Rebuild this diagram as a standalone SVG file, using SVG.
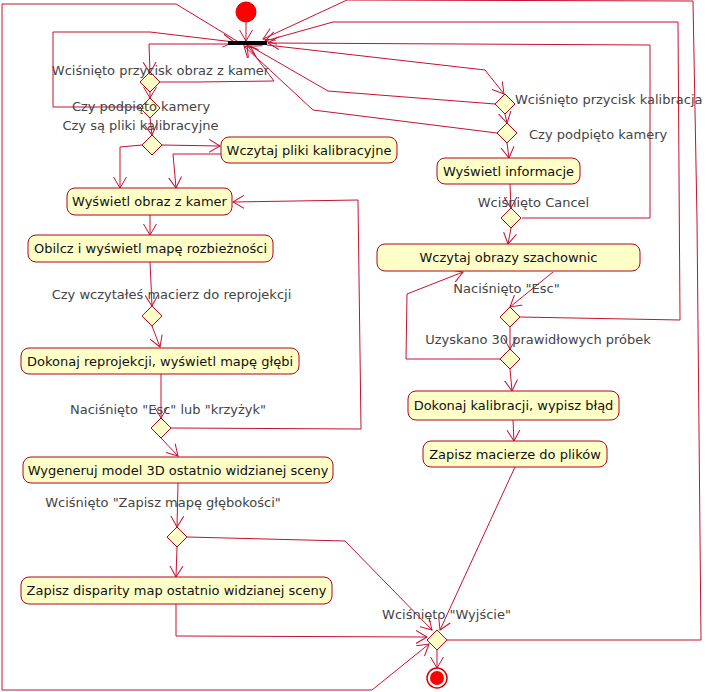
<svg xmlns="http://www.w3.org/2000/svg" width="708" height="692" viewBox="0 0 708 692">
<defs>
<marker id="arr" viewBox="0 0 12 14" refX="11" refY="7" markerWidth="12" markerHeight="14" markerUnits="userSpaceOnUse" orient="auto">
<path d="M0,0.5 L11,7 L0,13.5" fill="none" stroke="#c8102e" stroke-width="1"/>
</marker>
</defs>
<style>
.c{fill:none;stroke:#c8102e;stroke-width:1;marker-end:url(#arr)}
.cn{fill:none;stroke:#c8102e;stroke-width:1}
.box{fill:#ffffc8;stroke:#b5001e;stroke-width:1}
.dia{fill:#ffffc8;stroke:#b5001e;stroke-width:1}
.bt{font-family:"DejaVu Sans",sans-serif;font-size:13px;fill:#111;text-anchor:middle}
.lb{font-family:"DejaVu Sans",sans-serif;font-size:13px;fill:#444}
.mid{text-anchor:middle}
</style>
<rect width="708" height="692" fill="#fff"/>
<g id="connectors">
<polyline class="c" points="246,22 246,41"/>
<polyline class="c" points="228,44 149,44 150,73"/>
<polyline class="c" points="160,82 197,82 274,81 247,45"/>
<polyline class="c" points="150,92 150,98"/>
<polyline class="c" points="140,107 53,107 53,32 150,32 234,42"/>
<polyline class="c" points="150,118 152,135"/>
<polyline class="c" points="162,145 220,146"/>
<polyline class="c" points="142,145 120,147 120,188"/>
<polyline class="c" points="221,154 173,154 176,188"/>
<polyline class="c" points="150,215 150,235"/>
<polyline class="c" points="150,262 152,306"/>
<polyline class="c" points="152,326 160,347"/>
<polyline class="c" points="161,374 161,418"/>
<polyline class="c" points="171,428 361,429 358,200 233,202"/>
<polyline class="c" points="161,438 178,456"/>
<polyline class="c" points="178,483 177,527"/>
<polyline class="c" points="177,547 176,577"/>
<polyline class="c" points="187,537 266,539 345,541 432,630"/>
<polyline class="c" points="176,604 176,636 427,637"/>
<polyline class="c" points="447,640 701,640 697,220 693,1 347,0 263,39"/>
<polyline class="c" points="237,41 176,4 2,4 2,690 372,690 429,644"/>
<polyline class="c" points="267,45 485,70 504,94"/>
<polyline class="c" points="495,104 328,91 250,46"/>
<polyline class="c" points="505,114 507,123"/>
<polyline class="c" points="497,133 313,110 244,46"/>
<polyline class="c" points="507,143 509,158"/>
<polyline class="c" points="510,184 511,208"/>
<polyline class="c" points="522,218 650,218 650,45 268,43"/>
<polyline class="c" points="511,228 508,244"/>
<polyline class="c" points="553,272 510,307"/>
<polyline class="c" points="520,317 680,320 678,22 333,22 265,41"/>
<polyline class="c" points="510,327 510,349"/>
<polyline class="c" points="500,359 406,359 407,294 463,272"/>
<polyline class="c" points="510,369 512,391"/>
<polyline class="c" points="513,420 514,441"/>
<polyline class="c" points="515,467 440,630"/>
<polyline class="c" points="437,650 437,668"/>
</g>
<g id="start"><circle cx="246" cy="12" r="10" fill="#f00" stroke="#d00"/></g>
<g id="fork"><rect x="228" y="41" width="39" height="4" fill="#000"/></g>
<g id="d1"><polygon class="dia" points="150,72 160,82 150,92 140,82"/></g>
<g id="d2"><polygon class="dia" points="150,98 160,108 150,118 140,108"/></g>
<g id="d3"><polygon class="dia" points="152,135 162,145 152,155 142,145"/></g>
<g id="d4"><polygon class="dia" points="152,306 162,316 152,326 142,316"/></g>
<g id="d5"><polygon class="dia" points="161,418 171,428 161,438 151,428"/></g>
<g id="d6"><polygon class="dia" points="177,527 187,537 177,547 167,537"/></g>
<g id="k1"><polygon class="dia" points="505,94 515,104 505,114 495,104"/></g>
<g id="k2"><polygon class="dia" points="507,123 517,133 507,143 497,133"/></g>
<g id="dc"><polygon class="dia" points="511,208 521,218 511,228 501,218"/></g>
<g id="de"><polygon class="dia" points="510,307 520,317 510,327 500,317"/></g>
<g id="df"><polygon class="dia" points="510,349 520,359 510,369 500,359"/></g>
<g id="dx"><polygon class="dia" points="437,630 447,640 437,650 427,640"/></g>
<g id="n1"><rect class="box" x="221" y="137" width="176" height="26" rx="8"/><text class="bt" x="309" y="155">Wczytaj pliki kalibracyjne</text></g>
<g id="n2"><rect class="box" x="67" y="188" width="165" height="27" rx="8"/><text class="bt" x="149.5" y="206">Wyświetl obraz z kamer</text></g>
<g id="n3"><rect class="box" x="28" y="235" width="245" height="27" rx="8"/><text class="bt" x="150.5" y="253">Obilcz i wyświetl mapę rozbieżności</text></g>
<g id="n4"><rect class="box" x="21" y="348" width="278" height="26" rx="8"/><text class="bt" x="160" y="366">Dokonaj reprojekcji, wyświetl mapę głębi</text></g>
<g id="n5"><rect class="box" x="23" y="457" width="310" height="26" rx="8"/><text class="bt" x="178" y="475">Wygeneruj model 3D ostatnio widzianej sceny</text></g>
<g id="n6"><rect class="box" x="21" y="577" width="311" height="27" rx="8"/><text class="bt" x="176.5" y="595">Zapisz disparity map ostatnio widzianej sceny</text></g>
<g id="n7"><rect class="box" x="437" y="158" width="143" height="26" rx="8"/><text class="bt" x="508.5" y="176">Wyświetl informacje</text></g>
<g id="n8"><rect class="box" x="377" y="244" width="263" height="27" rx="8"/><text class="bt" x="508.5" y="262">Wczytaj obrazy szachownic</text></g>
<g id="n9"><rect class="box" x="408" y="391" width="211" height="29" rx="8"/><text class="bt" x="513.5" y="410">Dokonaj kalibracji, wypisz błąd</text></g>
<g id="n10"><rect class="box" x="423" y="441" width="184" height="26" rx="8"/><text class="bt" x="515" y="459">Zapisz macierze do plików</text></g>
<g id="end"><circle cx="437" cy="678" r="10" fill="#fff" stroke="#d00" stroke-width="1.5"/><circle cx="437" cy="678" r="7" fill="#f00"/></g>
<g id="labels">
<text class="lb mid" x="160.5" y="75">Wciśnięto przycisk obraz z kamer</text>
<text class="lb mid" x="141" y="111">Czy podpięto kamery</text>
<text class="lb mid" x="140.5" y="130">Czy są pliki kalibracyjne</text>
<text class="lb mid" x="171.5" y="299">Czy wczytałeś macierz do reprojekcji</text>
<text class="lb mid" x="168" y="414">Naciśnięto "Esc" lub "krzyżyk"</text>
<text class="lb mid" x="163" y="507">Wciśnięto "Zapisz mapę głębokości"</text>
<text class="lb" x="515" y="104">Wciśnięto przycisk kalibracja</text>
<text class="lb" x="529" y="139">Czy podpięto kamery</text>
<text class="lb mid" x="533.5" y="207">Wciśnięto Cancel</text>
<text class="lb mid" x="506.5" y="293">Naciśnięto "Esc"</text>
<text class="lb mid" x="538" y="344">Uzyskano 30 prawidłowych próbek</text>
<text class="lb mid" x="446.5" y="619">Wciśnięto "Wyjście"</text>
</g>
</svg>
